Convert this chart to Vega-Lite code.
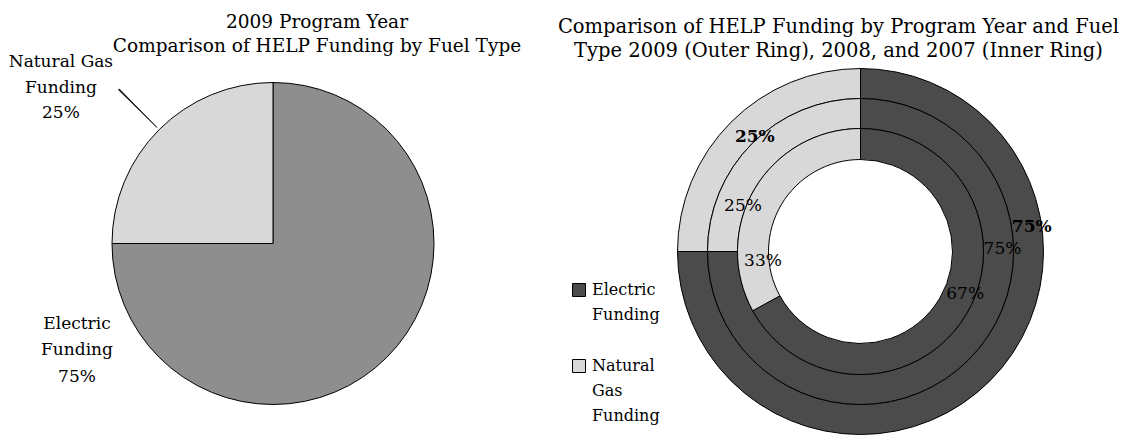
{
  "$schema": "https://vega.github.io/schema/vega-lite/v6.json",
  "padding": {"left": 0, "top": 12, "right": 0, "bottom": 0},
  "background": "white",
  "bounds": "flush",
  "spacing": 132,
  "config": {
    "view": {"stroke": null},
    "font": "DejaVu Serif",
    "title": {"font": "DejaVu Serif", "fontSize": 19, "fontWeight": "normal", "color": "black", "lineHeight": 24, "frame": "group", "anchor": "middle", "offset": -2},
    "text": {"font": "DejaVu Serif", "color": "black"}
  },
  "datasets": {
    "funding": [
      {"year": 2009, "fuel": "Electric Funding", "share": 0.75},
      {"year": 2009, "fuel": "Natural Gas Funding", "share": 0.25},
      {"year": 2008, "fuel": "Electric Funding", "share": 0.75},
      {"year": 2008, "fuel": "Natural Gas Funding", "share": 0.25},
      {"year": 2007, "fuel": "Electric Funding", "share": 0.67},
      {"year": 2007, "fuel": "Natural Gas Funding", "share": 0.33}
    ]
  },
  "resolve": {"scale": {"color": "independent", "theta": "independent"}},
  "hconcat": [
    {
      "width": 546,
      "height": 369,
      "title": {"text": ["2009 Program Year", "Comparison of HELP Funding by Fuel Type"], "dx": 44, "fontSize": 18.5},
      "data": {"name": "funding"},
      "transform": [{"filter": "datum.year == 2009"}],
      "encoding": {
        "theta": {"field": "share", "type": "quantitative", "stack": true},
        "order": {"field": "fuel", "sort": "ascending"}
      },
      "layer": [
        {
          "mark": {"type": "arc", "outerRadius": 161, "stroke": "black", "strokeWidth": 1},
          "encoding": {
            "color": {"field": "fuel", "type": "nominal", "scale": {"domain": ["Electric Funding", "Natural Gas Funding"], "range": ["#8e8e8e", "#d8d8d8"]}, "legend": null}
          }
        },
        {
          "mark": {"type": "arc", "innerRadius": 164, "outerRadius": 218, "padAngle": 1.197, "fill": "black", "stroke": "black", "strokeWidth": 0.7},
          "encoding": {
            "opacity": {"condition": {"test": "datum.fuel == 'Natural Gas Funding'", "value": 1}, "value": 0}
          }
        },
        {
          "mark": {"type": "text", "radius": 249, "dx": -36, "align": "center", "baseline": "alphabetic", "fontSize": 17, "lineHeight": 26, "lineBreak": {"expr": "regexp(' (?=Funding)')"}},
          "encoding": {
            "text": {"condition": {"test": "datum.fuel == 'Natural Gas Funding'", "field": "fuel", "type": "nominal"}, "value": ""}
          }
        },
        {
          "mark": {"type": "text", "radius": 249, "dx": -36, "dy": 51, "align": "center", "baseline": "alphabetic", "fontSize": 17},
          "encoding": {
            "text": {"condition": {"test": "datum.fuel == 'Natural Gas Funding'", "field": "share", "type": "quantitative", "format": ".0%"}, "value": ""}
          }
        },
        {
          "mark": {"type": "text", "radius": 0, "dx": -196, "dy": 85, "align": "center", "baseline": "alphabetic", "fontSize": 17, "lineHeight": 26, "lineBreak": {"expr": "regexp(' (?=Funding)')"}},
          "encoding": {
            "text": {"condition": {"test": "datum.fuel == 'Electric Funding'", "field": "fuel", "type": "nominal"}, "value": ""}
          }
        },
        {
          "mark": {"type": "text", "radius": 0, "dx": -196, "dy": 138, "align": "center", "baseline": "alphabetic", "fontSize": 17},
          "encoding": {
            "text": {"condition": {"test": "datum.fuel == 'Electric Funding'", "field": "share", "type": "quantitative", "format": ".0%"}, "value": ""}
          }
        }
      ]
    },
    {
      "width": 365,
      "height": 385,
      "title": {"text": ["Comparison of HELP Funding by Program Year and Fuel", "Type 2009 (Outer Ring), 2008, and 2007 (Inner Ring)"], "dx": -22, "fontSize": 19.5},
      "data": {"name": "funding"},
      "layer": [
        {
          "transform": [{"filter": "datum.year == 2009"}],
          "mark": {"type": "arc", "innerRadius": 153, "outerRadius": 183, "stroke": "black", "strokeWidth": 1},
          "encoding": {
            "theta": {"field": "share", "type": "quantitative", "stack": true},
            "order": {"field": "fuel", "sort": "ascending"},
            "color": {
              "field": "fuel", "type": "nominal",
              "scale": {"domain": ["Electric Funding", "Natural Gas Funding"], "range": ["#4b4b4b", "#d8d8d8"]},
              "legend": {
                "orient": "none", "legendX": -107, "legendY": 223, "title": null,
                "symbolType": "square", "symbolSize": 169, "symbolStrokeColor": "black", "symbolStrokeWidth": 1,
                "labelFont": "DejaVu Serif", "labelFontSize": 16, "labelColor": "black", "labelOffset": 5,
                "labelBaseline": "middle", "labelLimit": 200, "rowPadding": 34,
                "labelExpr": "split(datum.label, ' ')",
                "encoding": {"labels": {"lineHeight": {"value": 25}}}
              }
            }
          }
        },
        {
          "transform": [{"filter": "datum.year == 2008"}],
          "mark": {"type": "arc", "innerRadius": 123, "outerRadius": 153, "stroke": "black", "strokeWidth": 1},
          "encoding": {
            "theta": {"field": "share", "type": "quantitative", "stack": true},
            "order": {"field": "fuel", "sort": "ascending"},
            "color": {"field": "fuel", "type": "nominal"}
          }
        },
        {
          "transform": [{"filter": "datum.year == 2007"}],
          "mark": {"type": "arc", "innerRadius": 92, "outerRadius": 123, "stroke": "black", "strokeWidth": 1},
          "encoding": {
            "theta": {"field": "share", "type": "quantitative", "stack": true},
            "order": {"field": "fuel", "sort": "ascending"},
            "color": {"field": "fuel", "type": "nominal"}
          }
        },
        {
          "transform": [{"filter": "datum.year == 2009 && datum.fuel == 'Natural Gas Funding'"}],
          "mark": {"type": "text", "radius": 156, "theta": 5.539, "align": "center", "baseline": "middle", "fontSize": 17, "fontWeight": "bold"},
          "encoding": {"text": {"field": "share", "type": "quantitative", "format": ".0%"}}
        },
        {
          "transform": [{"filter": "datum.year == 2009 && datum.fuel == 'Electric Funding'"}],
          "mark": {"type": "text", "radius": 173, "theta": 1.429, "align": "center", "baseline": "middle", "fontSize": 17, "fontWeight": "bold"},
          "encoding": {"text": {"field": "share", "type": "quantitative", "format": ".0%"}}
        },
        {
          "transform": [{"filter": "datum.year == 2008 && datum.fuel == 'Natural Gas Funding'"}],
          "mark": {"type": "text", "radius": 126, "theta": 5.082, "align": "center", "baseline": "middle", "fontSize": 17},
          "encoding": {"text": {"field": "share", "type": "quantitative", "format": ".0%"}}
        },
        {
          "transform": [{"filter": "datum.year == 2008 && datum.fuel == 'Electric Funding'"}],
          "mark": {"type": "text", "radius": 142, "theta": 1.553, "align": "center", "baseline": "middle", "fontSize": 17},
          "encoding": {"text": {"field": "share", "type": "quantitative", "format": ".0%"}}
        },
        {
          "transform": [{"filter": "datum.year == 2007 && datum.fuel == 'Natural Gas Funding'"}],
          "mark": {"type": "text", "radius": 98, "theta": 4.615, "align": "center", "baseline": "middle", "fontSize": 17},
          "encoding": {"text": {"field": "share", "type": "quantitative", "format": ".0%"}}
        },
        {
          "transform": [{"filter": "datum.year == 2007 && datum.fuel == 'Electric Funding'"}],
          "mark": {"type": "text", "radius": 113, "theta": 1.957, "align": "center", "baseline": "middle", "fontSize": 17},
          "encoding": {"text": {"field": "share", "type": "quantitative", "format": ".0%"}}
        }
      ]
    }
  ]
}
